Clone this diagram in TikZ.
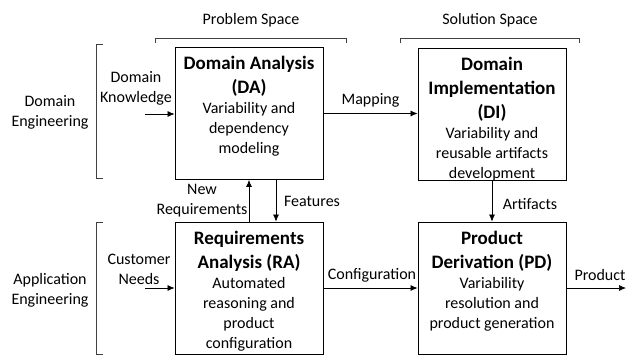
\documentclass[tikz,border=0pt]{standalone}
\usepackage{fontspec}
\setmainfont{Carlito}
\usepackage{tikz}
\usetikzlibrary{arrows.meta,positioning,calc}
\tikzstyle{every picture}+=[remember picture]
\tikzstyle{block} = [draw, line width=0.8pt, inner sep=3pt]
\tikzstyle{lbl} = [align=center, inner sep=0pt, font=\fontsize{16}{20}\selectfont]
\tikzstyle{flow} = [-{Latex[length=7pt,width=6pt]}, line width=0.7pt]
\tikzstyle{brace} = [line width=0.8pt, black!75]
\newcommand{\blocktext}[2]{\parbox[c][126pt][t]{142pt}{\centering
  \vspace*{6pt}{\fontsize{19}{24}\selectfont\bfseries #1\par}
  \fontsize{16}{20}\selectfont #2}}

\begin{document}
\begin{tikzpicture}[x=1pt,y=-1pt]
  	\useasboundingbox (0,0) rectangle (626,356);
  	% the four activities
  	\node[block] (da) at (249,113.5) {\blocktext{Domain Analysis\\(DA)}{Variability and\\dependency\\modeling}};
  	\node[block] (di) at (492,114) {\blocktext{Domain\\Implementation\\(DI)}{Variability and\\reusable artifacts\\development}};
  	\node[block] (ra) at (249,288) {\blocktext{Requirements\\Analysis (RA)}{Automated\\reasoning and\\product\\configuration}};
  	\node[block] (pd) at (492,288) {\blocktext{Product\\Derivation (PD)}{Variability\\resolution and\\product generation}};
  	
  	% spaces and engineering levels
  	\node[lbl] (problem) at (251,20) {Problem Space};
  	\node[lbl] (solution) at (490,20) {Solution Space};
  	\node[lbl] (domeng) at (50,112) {Domain\\Engineering};
  	\node[lbl] (appeng) at (50,290) {Application\\Engineering};
  	\draw[brace] (155,43) -- (155,38) -- (346,38) -- (346,43);
  	\draw[brace] (400,43) -- (400,38) -- (579,38) -- (579,43);
  	\draw[brace] (103,44) -- (96,44) -- (96,178) -- (103,178);
  	\draw[brace] (103,222) -- (96,222) -- (96,354) -- (103,354);
  	
  	% inputs and outputs
  	\coordinate (dkin) at (145,114);
  	\coordinate (cnin) at (145,288);
  	\coordinate (prodout) at (626,288);
  	\node[lbl] (dk) at (136,88) {Domain\\Knowledge};
  	\node[lbl] (cn) at (139,269) {Customer\\Needs};
  	\node[lbl] (prod) at (600,275) {Product};
  	\draw[flow] (dkin) -- (dkin -| da.west);
  	\draw[flow] (cnin) -- (ra.west);
  	\draw[flow] (pd.east) -- (prodout);
  	
  	% flows between activities
  	\draw[flow] (da.east) -- (da.east -| di.west) node[lbl, midway, above=6pt] (map) {Mapping};
  	\draw[flow] (ra.north) -- (da.south);
  	\draw[flow] ([xshift=27pt]da.south) -- ([xshift=27pt]ra.north);
  	\draw[flow] (di.south) -- (pd.north);
  	\draw[flow] (ra.east) -- (pd.west);
  	\node[lbl] (newreq) at (202,201) {New\\Requirements};
  	\node[lbl] (feat) at (312,201) {Features};
  	\node[lbl] (art) at (530,204) {Artifacts};
  	\node[lbl] (conf) at (372,275) {Configuration};
\end{tikzpicture}
\end{document}
